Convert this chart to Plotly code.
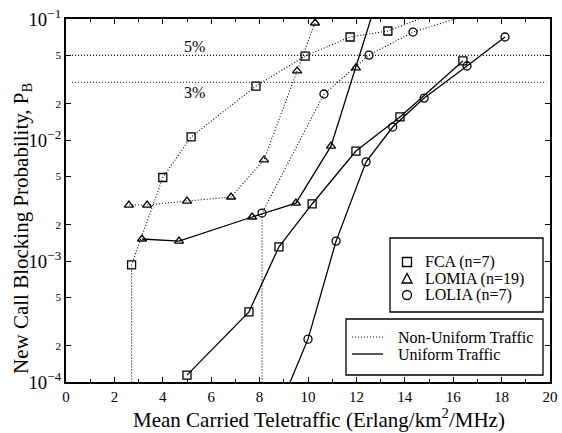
import math
import plotly.graph_objects as go

# ---------------- data ----------------
fca_nu_x = [2.71, 2.71, 4.0, 5.17, 7.85, 9.88, 11.74, 13.3, 15.5]
fca_nu_y = [5e-5, 9.3e-4, 4.9e-3, 0.0106, 0.0279, 0.0494, 0.071, 0.0796, 0.117]

lomia_nu_x = [2.6, 3.35, 5.0, 6.82, 8.18, 9.55, 10.29]
lomia_nu_y = [2.9e-3, 2.9e-3, 3.13e-3, 3.38e-3, 6.84e-3, 0.0372, 0.0927]

lolia_nu_x = [8.1, 8.1, 10.66, 12.52, 14.34, 18.0]
lolia_nu_y = [5e-5, 2.49e-3, 0.024, 0.0503, 0.078, 0.132]

fca_u_x = [5.0, 7.56, 8.8, 10.17, 11.98, 13.8, 16.4]
fca_u_y = [1.14e-4, 3.8e-4, 1.31e-3, 2.96e-3, 8.1e-3, 0.0155, 0.045]

lomia_u_x = [3.14, 4.67, 7.69, 9.5, 10.95, 11.98, 12.9]
lomia_u_y = [1.52e-3, 1.46e-3, 2.31e-3, 3.01e-3, 8.9e-3, 0.0394, 0.156]

lolia_u_x = [9.0, 10.0, 11.16, 12.4, 13.5, 14.8, 16.57, 18.14]
lolia_u_y = [7.5e-5, 2.26e-4, 1.46e-3, 6.6e-3, 0.0128, 0.0222, 0.0409, 0.071]

threshold_levels = [0.05, 0.03]
threshold_labels = ["5%", "3%"]
threshold_x = [0.25, 19.85]
threshold_label_x = [5.3, 5.3]
threshold_label_y = [0.0598, 0.0249]

scheme_names = ["FCA (n=7)", "LOMIA (n=19)", "LOLIA (n=7)"]
traffic_names = ["Non-Uniform Traffic", "Uniform Traffic"]

x_title = "Mean Carried Teletraffic (Erlang/km<sup>2</sup>/MHz)"
y_title = "New Call Blocking Probability, P<sub>B</sub>"

# ---------------- layout geometry (pixels) ----------------
W, H = 562, 433
L, R, T, B = 66, 12, 19, 51
PW, PH = W - L - R, H - T - B

def px(X):
    return (X - L) / PW

def py(Y):
    return 1 - (Y - T) / PH

FONT = "Liberation Serif"
DOT = "1px,2px"
SYM = {"FCA": "square-open", "LOMIA": "triangle-up-open", "LOLIA": "circle-open"}

fig = go.Figure()

def add_series(x, y, sym, dash):
    fig.add_trace(go.Scatter(
        x=x, y=y, mode="lines+markers", showlegend=False,
        line=dict(color="black", width=1.1 if dash == DOT else 1.3, dash=dash),
        marker=dict(symbol=sym, size=8, color="black", line=dict(width=1.3, color="black")),
    ))

for lvl in threshold_levels:
    fig.add_trace(go.Scatter(
        x=threshold_x, y=[lvl, lvl], mode="lines", showlegend=False,
        line=dict(color="black", width=1.1, dash=DOT),
    ))

add_series(fca_nu_x, fca_nu_y, SYM["FCA"], DOT)
add_series(lomia_nu_x, lomia_nu_y, SYM["LOMIA"], DOT)
add_series(lolia_nu_x, lolia_nu_y, SYM["LOLIA"], DOT)
add_series(fca_u_x, fca_u_y, SYM["FCA"], "solid")
add_series(lomia_u_x, lomia_u_y, SYM["LOMIA"], "solid")
add_series(lolia_u_x, lolia_u_y, SYM["LOLIA"], "solid")

for txt, lx, ly in zip(threshold_labels, threshold_label_x, threshold_label_y):
    fig.add_annotation(x=lx, y=math.log10(ly), text=txt, showarrow=False,
                       font=dict(family=FONT, size=16, color="black"))

# ---------------- hand-drawn legends ----------------
shapes = []
annots = []
LEG_FONT = dict(family=FONT, size=16, color="black")

# legend 1 box
shapes.append(dict(type="rect", xref="paper", yref="paper",
                   x0=px(390), x1=px(543), y0=py(312), y1=py(238),
                   line=dict(color="black", width=1.3), fillcolor="white", layer="above"))
rows1 = [262, 278.5, 295]
mx, ms = 407, 4.5
shapes.append(dict(type="rect", xref="paper", yref="paper",
                   x0=px(mx - ms), x1=px(mx + ms), y0=py(rows1[0] + ms), y1=py(rows1[0] - ms),
                   line=dict(color="black", width=1.3), layer="above"))
ty = rows1[1]
shapes.append(dict(type="path", xref="paper", yref="paper",
                   path=f"M {px(mx - 5)} {py(ty + 4.5)} L {px(mx + 5)} {py(ty + 4.5)} L {px(mx)} {py(ty - 5)} Z",
                   line=dict(color="black", width=1.3), layer="above"))
shapes.append(dict(type="circle", xref="paper", yref="paper",
                   x0=px(mx - ms), x1=px(mx + ms), y0=py(rows1[2] + ms), y1=py(rows1[2] - ms),
                   line=dict(color="black", width=1.3), layer="above"))
for name, ry in zip(scheme_names, rows1):
    annots.append(dict(xref="paper", yref="paper", x=px(423), y=py(ry), text=name,
                       showarrow=False, xanchor="left", yanchor="middle", font=LEG_FONT))

# legend 2 box
shapes.append(dict(type="rect", xref="paper", yref="paper",
                   x0=px(346), x1=px(543), y0=py(375), y1=py(319),
                   line=dict(color="black", width=1.3), fillcolor="white", layer="above"))
rows2 = [337, 354]
for name, ry, dash in zip(traffic_names, rows2, ["dot", "solid"]):
    shapes.append(dict(type="line", xref="paper", yref="paper",
                       x0=px(352), x1=px(383), y0=py(ry), y1=py(ry),
                       line=dict(color="black", width=1.1 if dash == "dot" else 1.3,
                                 dash=DOT if dash == "dot" else "solid"), layer="above"))
    annots.append(dict(xref="paper", yref="paper", x=px(396), y=py(ry), text=name,
                       showarrow=False, xanchor="left", yanchor="middle", font=LEG_FONT))

# axis titles as annotations for precise placement
annots.append(dict(xref="paper", yref="paper", x=px(319), y=py(434), text=x_title,
                   showarrow=False, xanchor="center", yanchor="bottom",
                   font=dict(family=FONT, size=21, color="black")))
annots.append(dict(xref="paper", yref="paper", x=px(22), y=py(228), text=y_title,
                   showarrow=False, xanchor="center", yanchor="middle", textangle=-90,
                   font=dict(family=FONT, size=21, color="black")))

for a in annots:
    fig.add_annotation(**a)

fig.update_layout(
    width=W, height=H,
    margin=dict(l=L, r=R, t=T, b=B, autoexpand=False),
    paper_bgcolor="white", plot_bgcolor="white",
    font=dict(family=FONT, color="black"),
    showlegend=False,
    shapes=shapes,
    xaxis=dict(
        range=[0, 20], dtick=2, tick0=0, automargin=False,
        ticks="inside", ticklen=5, tickwidth=1, tickcolor="black",
        showline=True, linecolor="black", linewidth=1.6, mirror="ticks",
        showgrid=False, zeroline=False,
        tickfont=dict(family=FONT, size=15, color="black"),
        minor=dict(ticks="inside", ticklen=3, dtick=1, tickcolor="black", showgrid=False),
    ),
    yaxis=dict(
        type="log", range=[-4, -1], dtick="D2", automargin=False,
        exponentformat="power",
        ticks="inside", ticklen=5, tickwidth=1, tickcolor="black",
        showline=True, linecolor="black", linewidth=1.6, mirror="ticks",
        showgrid=False, zeroline=False,
        tickfont=dict(family=FONT, size=15, color="black"),
    ),
)

fig.write_html("out.html")
